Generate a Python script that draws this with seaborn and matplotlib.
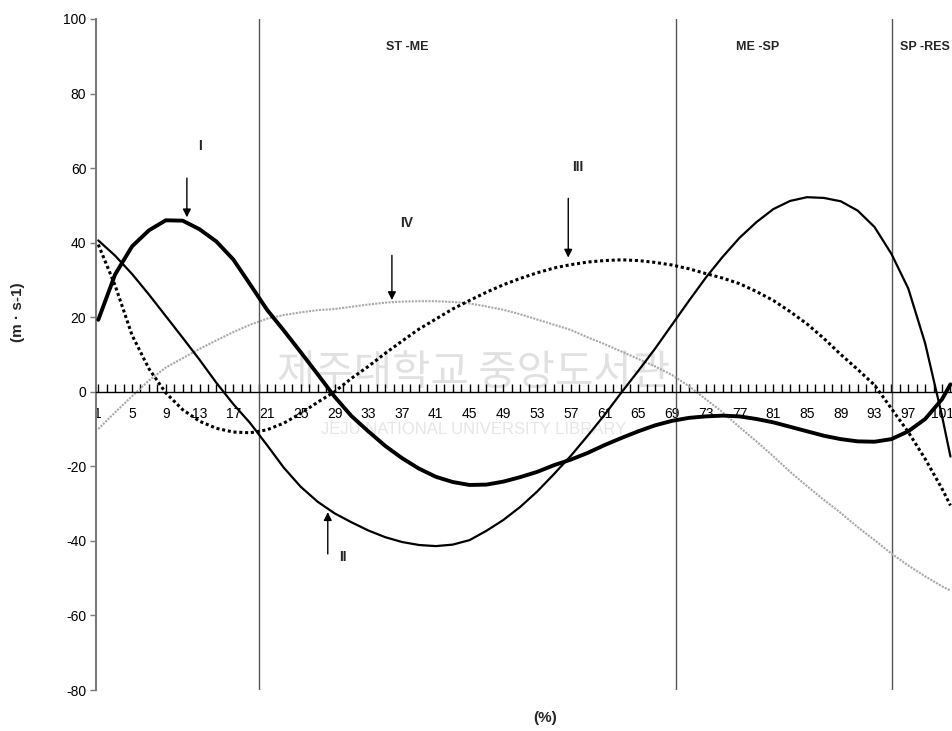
import numpy as np
import pandas as pd
import seaborn as sns
import matplotlib.pyplot as plt

# ---- data ----
cats = [1, 3, 5, 7, 9, 11, 13, 15, 17, 19, 21, 23, 25, 27, 29, 31, 33, 35, 37, 39,
        41, 43, 45, 47, 49, 51, 53, 55, 57, 59, 61, 63, 65, 67, 69, 71, 73, 75, 77, 79,
        81, 83, 85, 87, 89, 91, 93, 95, 97, 99, 101, 102]
curve_I = [19.3, 31.5, 39.0, 43.3, 46.0, 45.9, 43.6, 40.3, 35.5, 28.8, 22.0, 16.4,
           10.6, 4.7, -1.3, -6.5, -10.6, -14.5, -17.8, -20.6, -22.8, -24.2, -25.0,
           -24.9, -24.1, -22.9, -21.5, -19.7, -18.2, -16.4, -14.3, -12.4, -10.6, -9.0,
           -7.8, -7.0, -6.6, -6.4, -6.6, -7.3, -8.2, -9.4, -10.6, -11.8, -12.7, -13.3,
           -13.4, -12.7, -10.6, -7.3, -2.0, 2.0]
curve_II = [40.6, 36.5, 31.6, 26.1, 20.3, 14.5, 8.6, 2.4, -3.3, -8.4, -14.3, -20.4,
            -25.5, -29.5, -32.6, -35.0, -37.2, -39.0, -40.3, -41.1, -41.4, -41.0, -39.8,
            -37.3, -34.4, -30.9, -26.8, -22.1, -17.2, -11.8, -6.2, -0.2, 5.6, 11.6,
            18.0, 24.4, 30.6, 36.2, 41.3, 45.5, 49.0, 51.2, 52.2, 52.0, 51.1, 48.6,
            44.2, 37.0, 27.7, 13.0, -6.5, -17.4]
curve_III = [39.5, 28.5, 15.2, 6.2, -0.3, -4.8, -7.9, -9.8, -10.8, -11.0, -10.2, -8.4,
             -5.8, -2.8, 0.0, 3.6, 6.8, 10.3, 13.6, 16.8, 19.5, 22.2, 24.5, 26.7, 28.7,
             30.4, 31.9, 33.2, 34.1, 34.8, 35.2, 35.4, 35.2, 34.7, 34.0, 33.0, 31.7,
             30.5, 29.0, 26.9, 24.5, 21.5, 18.2, 14.3, 10.0, 6.0, 1.8, -4.5, -10.8,
             -18.0, -26.0, -30.5]
curve_IV = [-10.0, -5.5, -1.2, 3.0, 6.5, 9.0, 11.5, 13.8, 16.0, 18.0, 19.6, 20.6, 21.3,
            21.9, 22.2, 22.8, 23.4, 23.9, 24.2, 24.3, 24.3, 24.1, 23.7, 22.9, 22.0,
            20.8, 19.4, 18.0, 16.6, 14.6, 12.8, 10.8, 8.8, 6.8, 4.5, 1.5, -2.0, -5.5,
            -9.5, -13.3, -17.3, -21.5, -25.3, -29.0, -32.5, -36.3, -39.8, -43.4, -46.6,
            -49.5, -52.2, -53.3]

phase_bounds = [20, 69.5, 95.1]
phase_labels = ["ST -ME", "ME -SP", "SP -RES"]
phase_label_x = [37.6, 79.1, 99.0]

curve_names = ["I", "II", "III", "IV"]
x_tick_values = [1, 5, 9, 13, 17, 21, 25, 29, 33, 37, 41, 45, 49, 53, 57, 61, 65, 69,
                 73, 77, 81, 85, 89, 93, 97, 101]
x_tick_labels = [str(v) for v in x_tick_values]
y_ticks = [-80, -60, -40, -20, 0, 20, 40, 60, 80, 100]

# ---- style ----
sns.set_theme(style="white")
plt.rcParams['font.family'] = ['Liberation Sans', 'DejaVu Sans']

fig = plt.figure(figsize=(9.53, 7.31), dpi=100)
ax = fig.add_axes([96 / 953, 1 - 690 / 731, (953 - 96) / 953, (690 - 19) / 731])

# watermark (faint)
ax.text(45.5, 5.0, "제주대학교 중앙도서관", fontsize=30, color="#bdbdbd", alpha=0.45,
        ha="center", va="center", family=["Noto Sans CJK KR", "DejaVu Sans"], zorder=0.5)
ax.text(45.5, -10.2, "JEJU NATIONAL UNIVERSITY LIBRARY", fontsize=12, color="#c8c8c8",
        alpha=0.45, ha="center", va="center", zorder=0.5)

df = pd.DataFrame({"cat": cats, "I": curve_I, "II": curve_II,
                   "III": curve_III, "IV": curve_IV})

sns.lineplot(data=df, x="cat", y="IV", ax=ax, color="#a8a8a8", linewidth=1.5,
             linestyle=(0, (1, 0.6)), zorder=2)
sns.lineplot(data=df, x="cat", y="III", ax=ax, color="black", linewidth=2.2,
             linestyle=(0, (1.0, 0.9)), zorder=3)
sns.lineplot(data=df, x="cat", y="II", ax=ax, color="black", linewidth=1.6, zorder=3)
sns.lineplot(data=df, x="cat", y="I", ax=ax, color="black", linewidth=2.8, zorder=4)

for xb in phase_bounds:
    ax.axvline(xb, color="#555555", linewidth=1.0, zorder=1)

for lab, xl in zip(phase_labels, phase_label_x):
    ax.text(xl, 92.5, lab, ha="center", va="center", fontsize=9, fontweight="bold")

# arrows + curve labels
arrows = {"I": ((11.5, 57.3), (11.5, 46.8), (13.1, 65.9)),
          "II": ((28.2, -43.5), (28.2, -32.3), (30.0, -44.2)),
          "III": ((56.7, 51.9), (56.7, 36.0), (57.8, 60.2)),
          "IV": ((35.8, 36.6), (35.8, 24.6), (37.6, 45.4))}
for name in curve_names:
    start, end, lab = arrows[name]
    ax.annotate("", xy=end, xytext=start,
                arrowprops=dict(arrowstyle="-|>", color="black", lw=1.0,
                                mutation_scale=12, shrinkA=0, shrinkB=0))
    ax.text(lab[0], lab[1], name, ha="center", va="center", fontsize=10,
            fontweight="bold")

ax.set_xlim(0.73, 102.3)
ax.set_ylim(-80, 100)

ax.spines["top"].set_visible(False)
ax.spines["right"].set_visible(False)
ax.spines["bottom"].set_position(("data", 0))
ax.spines["bottom"].set_color("black")
ax.spines["bottom"].set_linewidth(1.0)
ax.spines["left"].set_color("#7a7a7a")
ax.spines["left"].set_linewidth(1.5)

ax.set_xticks(x_tick_values)
ax.set_xticklabels(x_tick_labels)
ax.set_xticks(list(range(1, 103)), minor=True)
ax.tick_params(axis="x", which="both", direction="in", length=6, width=1,
               color="black", bottom=True)
ax.tick_params(axis="x", which="major", pad=11, labelsize=10, labelcolor="black")

ax.set_yticks(y_ticks)
ax.set_yticklabels([str(v) for v in y_ticks])
ax.tick_params(axis="y", direction="out", length=4, width=1, color="#7a7a7a",
               left=True, labelsize=10, labelcolor="black", pad=3)

ax.set_xlabel("")
ax.set_ylabel("")
fig.text(18 / 953, 1 - 312 / 731, "(m · s-1)", rotation=90, fontsize=11,
         fontweight="bold", ha="center", va="center")
fig.text(545 / 953, 1 - 718 / 731, "(%)", fontsize=11, fontweight="bold",
         ha="center", va="center")

fig.savefig("out.png", dpi=100)
